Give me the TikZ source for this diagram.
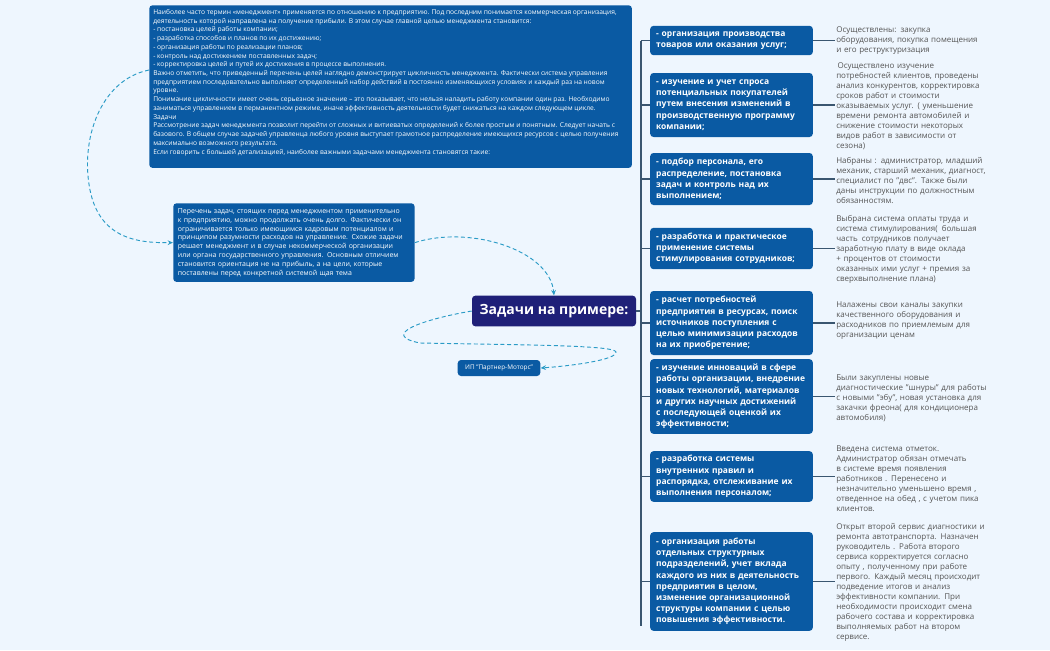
\documentclass[tikz,border=0pt]{standalone}
\usepackage{fontspec}
\setmainfont{Open Sans}
\usetikzlibrary{arrows.meta}
\definecolor{bg}{HTML}{EEF6FE}
\definecolor{bbox}{HTML}{0A5AA3}
\definecolor{navy}{HTML}{1F2078}
\definecolor{dash}{HTML}{2A9BC6}
\definecolor{gtext}{HTML}{555555}
\definecolor{ln}{HTML}{3A5670}
\tikzset{
 x=0.75pt,y=-0.75pt,
 bx/.style={fill=bbox,rounded corners=2.5pt,text=white,inner sep=0pt,anchor=center},
 task/.style={bx,minimum width=122pt,text width=113pt,align=left,font=\fontsize{6.35}{8.4}\selectfont\bfseries},
 note/.style={anchor=west,text=gtext,inner sep=0pt,text width=113pt,align=left,font=\fontsize{6.0}{7.5}\selectfont},
 conn/.style={draw=ln,line width=0.8pt},
 dsh/.style={draw=dash,dashed,dash pattern=on 3pt off 2pt,line width=0.7pt,-{Stealth[length=4pt,width=3.5pt]}}
}
\begin{document}
\begin{tikzpicture}
\fill[bg] (0,0) rectangle (1050,650);
\useasboundingbox (0,0) rectangle (1050,650);
\node[bx,anchor=north west,inner xsep=3pt,inner ysep=3pt,font=\fontsize{5.0}{6.55}\selectfont] (top) at (149,5) {\begin{minipage}[t][116pt][t]{356pt}\raggedright
Наиболее часто термин «менеджмент» применяется по отношению к предприятию. Под последним понимается коммерческая организация, деятельность которой направлена на получение прибыли. В этом случае главной целью менеджмента становится:\\
- постановка целей работы компании;\\
- разработка способов и планов по их достижению;\\
- организация работы по реализации планов;\\
- контроль над достижением поставленных задач;\\
- корректировка целей и путей их достижения в процессе выполнения.\\
Важно отметить, что приведенный перечень целей наглядно демонстрирует цикличность менеджмента. Фактически система управления предприятием последовательно выполняет определенный набор действий в постоянно изменяющихся условиях и каждый раз на новом уровне.\\
Понимание цикличности имеет очень серьезное значение -- это показывает, что нельзя наладить работу компании один раз. Необходимо заниматься управлением в перманентном режиме, иначе эффективность деятельности будет снижаться на каждом следующем цикле.\\
Задачи\\
Рассмотрение задач менеджмента позволит перейти от сложных и витиеватых определений к более простым и понятным. Следует начать с базового. В общем случае задачей управленца любого уровня выступает грамотное распределение имеющихся ресурсов с целью получения максимально возможного результата.\\
Если говорить с большей детализацией, наиболее важными задачами менеджмента становятся такие:\end{minipage}};
\node[bx,minimum width=181pt,minimum height=59pt,text width=174pt,align=left,anchor=north west,font=\fontsize{5.2}{6.6}\selectfont] (mid) at (173,203) {Перечень задач, стоящих перед менеджментом применительно к предприятию, можно продолжать очень долго. Фактически он ограничивается только имеющимся кадровым потенциалом и принципом разумности расходов на управление. Схожие задачи решает менеджмент и в случае некоммерческой организации или органа государственного управления. Основным отличием становится ориентация не на прибыль, а на цели, которые поставлены перед конкретной системой щая тема};
\node[bx,fill=navy,minimum width=123pt,minimum height=23pt,font=\fontsize{10.5}{12}\selectfont\bfseries] (c) at (554,311) {Задачи на примере:};
\node[bx,minimum width=62pt,minimum height=12pt,font=\fontsize{4.8}{6}\selectfont] (ip) at (499,368) {ИП "Партнер-Моторс"};

\node[task,minimum height=22pt] (t1) at (731.5,40.5) {- организация производства товаров или оказания услуг;};
\node[task,minimum height=48pt] (t2) at (731.5,105) {- изучение и учет спроса потенциальных покупателей путем внесения изменений в производственную программу компании;};
\node[task,minimum height=39pt] (t3) at (731.5,179) {- подбор персонала, его распределение, постановка задач и контроль над их выполнением;};
\node[task,minimum height=31pt] (t4) at (731.5,248.5) {- разработка и практическое применение системы стимулирования сотрудников;};
\node[task,minimum height=48pt] (t5) at (731.5,323) {- расчет потребностей предприятия в ресурсах, поиск источников поступления с целью минимизации расходов на их приобретение;};
\node[task,minimum height=56pt] (t6) at (731.5,396.5) {- изучение инноваций в сфере работы организации, внедрение новых технологий, материалов и других научных достижений с последующей оценкой их эффективности;};
\node[task,minimum height=38pt] (t7) at (731.5,476.5) {- разработка системы внутренних правил и распорядка, отслеживание их выполнения персоналом;};
\node[task,minimum height=74pt] (t8) at (731.5,581.5) {- организация работы отдельных структурных подразделений, учет вклада каждого из них в деятельность предприятия в целом, изменение организационной структуры компании с целью повышения эффективности.};

\node[note] (n1) at (836,41) {Осуществлены: закупка оборудования, покупка помещения и его реструктуризация};
\node[note] (n2) at (836,106) {\,Осуществлено изучение потребностей клиентов, проведены анализ конкурентов, корректировка сроков работ и стоимости оказываемых услуг. ( уменьшение времени ремонта автомобилей и снижение стоимости некоторых видов работ в зависимости от сезона)};
\node[note] (n3) at (836,180) {Набраны : администратор, младший механик, старший механик, диагност, специалист по "двс".\enspace Также были даны инструкции по должностным обязанностям.};
\node[note] (n4) at (836,249.5) {Выбрана система оплаты труда и система стимулирования(\enspace большая часть\enspace сотрудников получает заработную плату в виде оклада + процентов от стоимости оказанных ими услуг + премия за сверхвыполнение плана)};
\node[note] (n5) at (836,321) {Налажены свои каналы закупки качественного оборудования и расходников по приемлемым для организации ценам};
\node[note] (n6) at (836,398) {Были закуплены новые диагностические "шнуры" для работы с новыми "эбу", новая установка для закачки фреона( для кондиционера автомобиля)};
\node[note] (n7) at (836,478.5) {Введена система отметок. Администратор обязан отмечать в системе время появления работников . Перенесено и незначительно уменьшено время , отведенное на обед , с учетом пика клиентов.};
\node[note] (n8) at (836,582) {Открыт второй сервис диагностики и ремонта автотранспорта. Назначен руководитель . Работа второго сервиса корректируется согласно опыту , полученному при работе первого. Каждый месяц происходит подведение итогов и анализ эффективности компании. При необходимости происходит смена рабочего состава и корректировка выполняемых работ на втором сервисе.};

\coordinate (tr) at (641,311);
\coordinate (tt) at (641,40.5);
\coordinate (tb) at (641,626);
\draw[conn] (tt) -- (tb);
\draw[conn] (c.east) -- (tr);
\foreach \i in {1,...,8}{
  \draw[conn] (t\i.west) -- (t\i.west -| tr);
  \draw[conn] (t\i.east) -- ++(22,0);
}
\draw[dsh] (top.west |- 0,70) .. controls (100,80) and (80,140) .. (90,190) .. controls (100,240) and (140,243) .. (mid.west);
\draw[dsh] (mid.east) .. controls (470,225) and (550,250) .. (c.north);
\draw[dsh] (c.west) .. controls (420,320) and (380,335) .. (420,343) .. controls (520,345) and (615,345) .. (616,352) .. controls (617,360) and (570,366) .. (ip.east);
\end{tikzpicture}
\end{document}
